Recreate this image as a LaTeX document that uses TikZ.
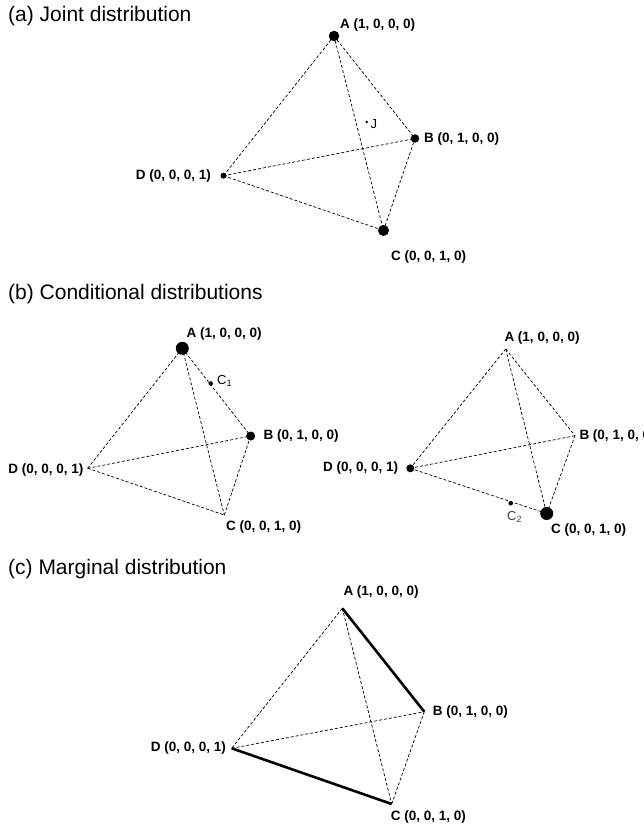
\documentclass[tikz,border=0pt]{standalone}
\usepackage{fontspec}
\setmainfont{Liberation Sans}
\begin{document}
\begin{tikzpicture}[x=1pt,y=-1pt,
  edge/.style={line width=0.7pt, dash pattern=on 3pt off 2pt},
  thickedge/.style={line width=2.6pt},
  vlabel/.style={font=\fontsize{13.5}{16}\selectfont\bfseries, inner sep=0pt},
  title/.style={font=\fontsize{21}{25}\selectfont, inner sep=0pt, anchor=west},
  dot/.style={circle, fill=black, inner sep=0pt},
  smalltxt/.style={font=\fontsize{13}{15}\selectfont, inner sep=0pt}]
\useasboundingbox (0,0) rectangle (644,827);
% ---------- (a) ----------
\node[title] (ta) at (8,16) {(a) Joint distribution};
\coordinate (aA) at (334,36);
\coordinate (aB) at (415,138.5);
\coordinate (aC) at (383.5,230.5);
\coordinate (aD) at (223.5,175.7);
\coordinate (aJ) at (366.7,122);
\draw[edge] (aA) -- (aD);
\draw[edge] (aA) -- (aC);
\draw[edge] (aA) -- (aB);
\draw[edge] (aD) -- (aB);
\draw[edge] (aD) -- (aC);
\draw[edge] (aC) -- (aB);
\node[dot, minimum size=10.5pt] (aAd) at (aA) {};
\node[dot, minimum size=8.5pt] (aBd) at (aB) {};
\node[dot, minimum size=11pt] (aCd) at (aC) {};
\node[dot, minimum size=6pt] (aDd) at (aD) {};
\node[dot, minimum size=2.6pt] (aJd) at (aJ) {};
\node[smalltxt, anchor=west] (aJl) at (370.5,124.5) {J};
\node[vlabel, anchor=west] (aAl) at (340,25) {A (1, 0, 0, 0)};
\node[vlabel, anchor=west] (aBl) at (424,139) {B (0, 1, 0, 0)};
\node[vlabel, anchor=east] (aDl) at (211,176) {D (0, 0, 0, 1)};
\node[vlabel, anchor=west] (aCl) at (391,257) {C (0, 0, 1, 0)};
% ---------- (b) ----------
\node[title] (tb) at (8,294) {(b) Conditional distributions};
% left
\coordinate (lA) at (182.3,348.3);
\coordinate (lB) at (250.7,436);
\coordinate (lC) at (224.3,515);
\coordinate (lD) at (87.7,468.3);
\coordinate (lC1) at (210.7,383.5);
\draw[edge] (lA) -- (lD);
\draw[edge] (lA) -- (lC);
\draw[edge] (lA) -- (lB);
\draw[edge] (lD) -- (lB);
\draw[edge] (lD) -- (lC);
\draw[edge] (lC) -- (lB);
\node[dot, minimum size=13pt] (lAd) at (lA) {};
\node[dot, minimum size=9pt] (lBd) at (lB) {};
\node[dot, minimum size=4.5pt] (lC1d) at (lC1) {};
\node[smalltxt, anchor=west] (lC1l) at (217,381) {C\textsubscript{1}};
\node[vlabel, anchor=west] (lAl) at (186.5,334.5) {A (1, 0, 0, 0)};
\node[vlabel, anchor=west] (lBl) at (263.5,436) {B (0, 1, 0, 0)};
\node[vlabel, anchor=east] (lDl) at (83.5,470) {D (0, 0, 0, 1)};
\node[vlabel, anchor=west] (lCl) at (226,527) {C (0, 0, 1, 0)};
% right
\coordinate (rA) at (505.7,349);
\coordinate (rB) at (575,435.7);
\coordinate (rC) at (546.7,513.5);
\coordinate (rD) at (410.3,468.3);
\coordinate (rC2) at (510.7,503.3);
\draw[edge] (rA) -- (rD);
\draw[edge] (rA) -- (rC);
\draw[edge] (rA) -- (rB);
\draw[edge] (rD) -- (rB);
\draw[edge] (rD) -- (rC);
\draw[edge] (rC) -- (rB);
\node[dot, minimum size=8pt] (rDd) at (rD) {};
\node[dot, minimum size=13pt] (rCd) at (rC) {};
\node[dot, minimum size=4.5pt] (rC2d) at (rC2) {};
\node[smalltxt, text=black!75, anchor=west] (rC2l) at (507,517) {C\textsubscript{2}};
\node[vlabel, anchor=west] (rAl) at (504.3,338.5) {A (1, 0, 0, 0)};
\node[vlabel, anchor=west] (rBl) at (579.3,436) {B (0, 1, 0, 0)};
\node[vlabel, anchor=east] (rDl) at (398.3,468) {D (0, 0, 0, 1)};
\node[vlabel, anchor=west] (rCl) at (551,530) {C (0, 0, 1, 0)};
% ---------- (c) ----------
\node[title] (tc) at (8,569) {(c) Marginal distribution};
\coordinate (cA) at (342.3,608.3);
\coordinate (cB) at (424.3,711.7);
\coordinate (cC) at (391.7,804);
\coordinate (cD) at (231.7,748.3);
\draw[edge] (cA) -- (cD);
\draw[edge] (cA) -- (cC);
\draw[edge] (cD) -- (cB);
\draw[edge] (cC) -- (cB);
\draw[thickedge] (cA) -- (cB);
\draw[thickedge] (cD) -- (cC);
\node[vlabel, anchor=west] (cAl) at (343.3,591.7) {A (1, 0, 0, 0)};
\node[vlabel, anchor=west] (cBl) at (432.7,711.7) {B (0, 1, 0, 0)};
\node[vlabel, anchor=east] (cDl) at (226,748.3) {D (0, 0, 0, 1)};
\node[vlabel, anchor=west] (cCl) at (390.7,816.7) {C (0, 0, 1, 0)};
\end{tikzpicture}
\end{document}
